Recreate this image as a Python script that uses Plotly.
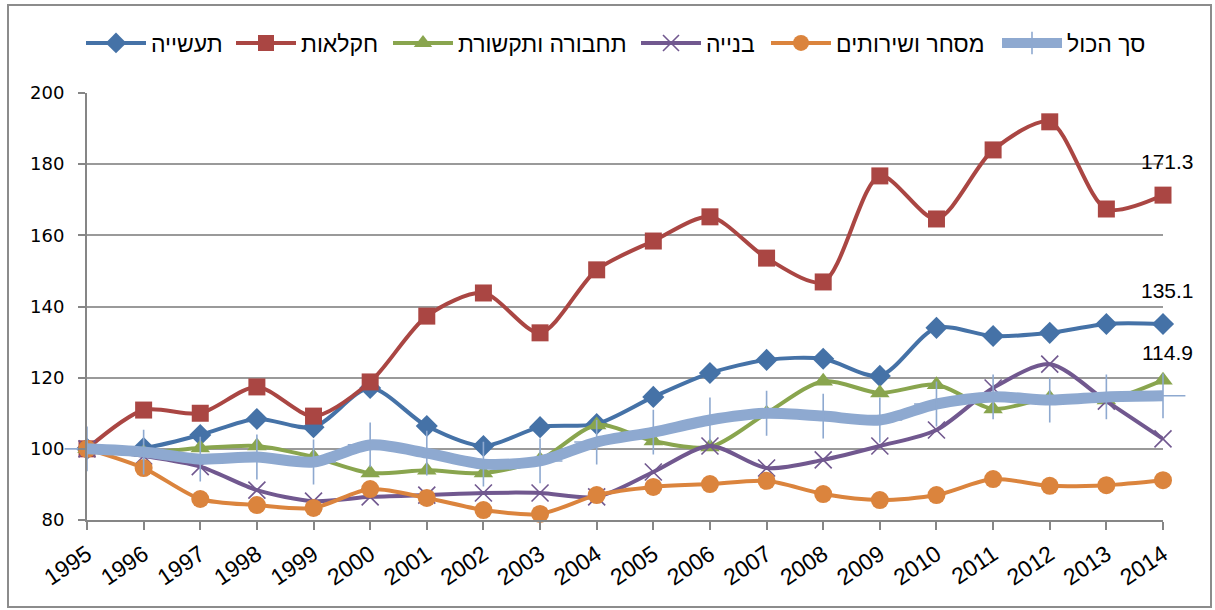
import plotly.graph_objects as go

years = list(range(1995, 2015))

industry = [100, 100.2, 103.9, 108.4, 106.1, 117.1, 106.4, 100.8, 106.1, 107.0,
            114.6, 121.3, 125.0, 125.3, 120.5, 134.0, 131.7, 132.6, 135.1, 135.1]
agriculture = [100, 110.9, 110.0, 117.4, 109.2, 118.8, 137.3, 143.8, 132.6, 150.3,
               158.4, 165.2, 153.6, 146.9, 176.7, 164.6, 184.0, 191.9, 167.4, 171.3]
transport = [100, 99.0, 100.2, 100.8, 97.7, 93.2, 94.0, 93.2, 96.9, 106.7,
             102.2, 100.5, 110.0, 119.0, 115.7, 118.0, 111.2, 114.3, 113.7, 119.3]
construction = [100, 98.0, 95.0, 88.4, 85.3, 86.5, 87.0, 87.6, 87.6, 86.5,
                93.5, 100.8, 94.6, 96.9, 100.8, 105.3, 117.1, 123.8, 113.4, 102.8]
commerce = [100, 94.6, 85.9, 84.2, 83.4, 88.7, 86.2, 82.8, 81.7, 87.0,
            89.3, 90.1, 91.0, 87.3, 85.6, 87.0, 91.5, 89.6, 89.8, 91.2]
total = [100, 99.1, 97.1, 97.7, 96.3, 101.1, 98.8, 95.7, 96.6, 101.9,
         104.7, 108.1, 110.0, 109.2, 108.1, 112.6, 114.6, 113.7, 114.6, 114.9]

names = ["תעשייה", "חקלאות", "תחבורה ותקשורת", "בנייה", "מסחר ושירותים", "סך הכול"]
colors = ["#4572A7", "#AA4643", "#89A54E", "#71588F", "#DB843D", "#8EA9D0"]
series = [industry, agriculture, transport, construction, commerce, total]
symbols = ["diamond", "square", "triangle-up", "x-thin", "circle", "cross-thin"]
msizes = [17, 17, 17, 17, 18, 32]
lwidths = [4, 4, 4, 4, 4, 11]

labels_idx = [1, 0, 5]
label_texts = ["171.3", "135.1", "114.9"]
label_shift = [34, 33, 43]

# legend entry text start positions (px, page coordinates)
legend_text_px = [153, 303, 460, 708, 838, 1069]

L, R, T, B = 87, 1163, 93, 520
W, H = 1215, 610
pw, ph = R - L, B - T

fig = go.Figure()
for k, (nm, col, ys, sym, ms, lw) in enumerate(zip(names, colors, series, symbols, msizes, lwidths)):
    if sym in ("x-thin", "cross-thin"):
        marker = dict(symbol=sym, size=ms, color=col, line=dict(color=col, width=1.6))
    else:
        marker = dict(symbol=sym, size=ms, color=col, line=dict(width=0))
    lg = "legend" if k == 0 else f"legend{k + 1}"
    fig.add_trace(go.Scatter(
        x=years, y=ys, name=nm, mode="lines+markers",
        line=dict(color=col, width=lw, shape="spline", smoothing=0.8),
        marker=marker, cliponaxis=False, legend=lg,
    ))

for i, txt, sh in zip(labels_idx, label_texts, label_shift):
    fig.add_annotation(x=years[-1], y=series[i][-1], text=txt, showarrow=False,
                       xref="x", yref="y", yshift=sh, xshift=4,
                       font=dict(family="Liberation Sans, Arial", size=21, color="#000000"))

fig.add_shape(type="rect", xref="paper", yref="paper",
              x0=(8 - L) / pw, x1=(1211 - L) / pw,
              y0=(B - 607) / ph, y1=(B - 5) / ph,
              line=dict(color="#8c8c8c", width=2), fillcolor="rgba(0,0,0,0)", layer="below")

ITEMW = 60
layout_legends = {}
for k, xpx in enumerate(legend_text_px):
    key = "legend" if k == 0 else f"legend{k + 1}"
    layout_legends[key] = dict(
        orientation="h", x=(xpx - ITEMW - 12 - L) / pw, xanchor="left",
        y=(B - 43) / ph, yanchor="middle", bgcolor="rgba(0,0,0,0)",
        font=dict(family="Liberation Sans, Arial", size=23, color="#000000"),
        itemwidth=ITEMW,
    )

fig.update_layout(
    width=W, height=H,
    margin=dict(l=L, r=W - R, t=T, b=H - B, pad=0, autoexpand=False),
    plot_bgcolor="white", paper_bgcolor="white",
    showlegend=True,
    xaxis=dict(range=[1995, 2014], tickmode="array", tickvals=years,
               ticktext=[str(y) for y in years], tickangle=-34,
               showgrid=False, zeroline=False,
               showline=True, linecolor="#868686", linewidth=2,
               ticks="outside", ticklen=8, tickwidth=1.5, tickcolor="#868686",
               ticklabelstandoff=2,
               tickfont=dict(family="Liberation Sans, Arial", size=23, color="#000000")),
    yaxis=dict(range=[80, 200], tickmode="array", tickvals=[80, 100, 120, 140, 160, 180, 200],
               showgrid=True, gridcolor="#9a9a9a", gridwidth=1.5, zeroline=False,
               showline=True, linecolor="#868686", linewidth=2,
               ticks="outside", ticklen=7, tickwidth=1.5, tickcolor="#868686",
               ticklabelstandoff=10,
               tickfont=dict(family="DejaVu Sans", size=18, color="#000000")),
    **layout_legends,
)

fig.write_html("out.html", config={"displayModeBar": False},
               post_script="document.body.style.margin='0';document.body.style.overflow='hidden';")
